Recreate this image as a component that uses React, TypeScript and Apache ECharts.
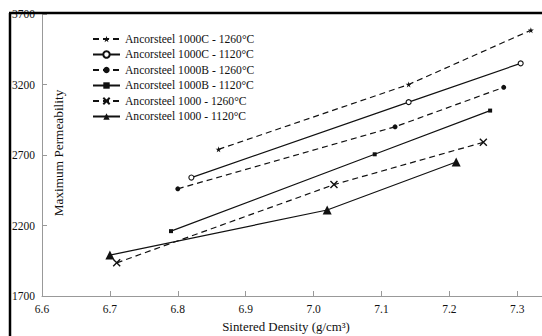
import React, { useEffect, useRef } from "react";
import * as echarts from "echarts";

const seriesNames = [
  "Ancorsteel 1000C - 1260°C",
  "Ancorsteel 1000C - 1120°C",
  "Ancorsteel 1000B - 1260°C",
  "Ancorsteel 1000B - 1120°C",
  "Ancorsteel 1000 - 1260°C",
  "Ancorsteel 1000 - 1120°C",
];

const s1000C1260: [number, number][] = [[6.86, 2740], [7.14, 3200], [7.32, 3585]];
const s1000C1120: [number, number][] = [[6.82, 2540], [7.14, 3075], [7.305, 3350]];
const s1000B1260: [number, number][] = [[6.80, 2460], [7.12, 2900], [7.28, 3180]];
const s1000B1120: [number, number][] = [[6.79, 2160], [7.09, 2705], [7.26, 3015]];
const s10001260: [number, number][] = [[6.71, 1935], [7.03, 2490], [7.25, 2790]];
const s10001120: [number, number][] = [[6.70, 1990], [7.02, 2310], [7.21, 2650]];

const xTicks = [6.6, 6.7, 6.8, 6.9, 7.0, 7.1, 7.2, 7.3];
const yTicks = [1700, 2200, 2700, 3200, 3700];

const FONT = "Liberation Serif";
const STAR = "path://M50 0 L61 35 L98 35 L68 57 L79 91 L50 70 L21 91 L32 57 L2 35 L39 35 Z";
const CROSS = "path://M0 0 L10 10 M10 0 L0 10";

export default function App() {
  const ref = useRef<HTMLDivElement>(null);
  useEffect(() => {
    if (!ref.current) return;
    const chart = echarts.init(ref.current, undefined, { renderer: "svg" });
    const mk = (
      name: string,
      data: [number, number][],
      dashed: boolean,
      symbol: string,
      symbolSize: number,
      itemStyle: any
    ) => ({
      name,
      type: "line",
      data,
      symbol,
      symbolSize,
      showSymbol: true,
      lineStyle: { color: "#111", width: 1.2, type: dashed ? [6, 4] : "solid" },
      itemStyle,
      emphasis: { disabled: true },
    });
    const solid = { color: "#111", borderColor: "#111", borderWidth: 0 };
    chart.setOption({
      animation: false,
      textStyle: { fontFamily: FONT },
      grid: { left: 42, top: 14, width: 500, height: 282 },
      legend: {
        orient: "vertical",
        left: 87,
        top: 28,
        itemWidth: 27,
        itemHeight: 8,
        itemGap: 3.5,
        data: seriesNames,
        textStyle: { fontFamily: FONT, fontSize: 11.6, color: "#111" },
      },
      xAxis: {
        type: "value",
        min: 6.6,
        max: 7.3364,
        interval: 0.1,
        splitLine: { show: false },
        axisLine: { lineStyle: { color: "#999", width: 1 } },
        axisTick: { inside: true, length: 5, lineStyle: { color: "#999" }, customValues: xTicks },
        axisLabel: {
          customValues: xTicks,
          formatter: (v: number) => v.toFixed(1),
          fontFamily: FONT,
          fontSize: 11.5,
          color: "#111",
          margin: 7,
        },
      },
      yAxis: {
        type: "value",
        min: 1700,
        max: 3700,
        interval: 500,
        splitLine: { show: false },
        axisLine: { show: true, lineStyle: { color: "#999", width: 1 } },
        axisTick: { show: true, inside: true, length: 5, lineStyle: { color: "#999" }, customValues: yTicks },
        axisLabel: {
          customValues: yTicks,
          formatter: (v: number) => String(v),
          fontFamily: FONT,
          fontSize: 11.5,
          color: "#111",
          margin: 7,
        },
      },
      graphic: [
        {
          type: "line",
          shape: { x1: 10, y1: 13, x2: 10, y2: 336 },
          style: { stroke: "#000", lineWidth: 2.5 },
          z: 100,
        },
        {
          type: "line",
          shape: { x1: 9, y1: 13, x2: 542, y2: 13 },
          style: { stroke: "#000", lineWidth: 2.5 },
          z: 100,
        },
        {
          type: "text",
          x: 58,
          y: 153,
          rotation: Math.PI / 2,
          style: {
            text: "Maximum Permeability",
            font: `13.3px ${FONT}`,
            fill: "#111",
            align: "center",
            verticalAlign: "middle",
          },
        },
        {
          type: "text",
          x: 286,
          y: 327,
          style: {
            text: "Sintered Density (g/cm³)",
            font: `12.9px ${FONT}`,
            fill: "#111",
            align: "center",
            verticalAlign: "middle",
          },
        },
      ],
      series: [
        mk(seriesNames[0], s1000C1260, true, STAR, 6, solid),
        mk(seriesNames[1], s1000C1120, false, "circle", 5, { color: "#fff", borderColor: "#111", borderWidth: 1.1 }),
        mk(seriesNames[2], s1000B1260, true, "circle", 5, solid),
        mk(seriesNames[3], s1000B1120, false, "rect", 4, solid),
        mk(seriesNames[4], s10001260, true, CROSS, 7, { color: "rgba(0,0,0,0)", borderColor: "#111", borderWidth: 1.4 }),
        mk(seriesNames[5], s10001120, false, "triangle", 9, solid),
      ],
    });
    return () => chart.dispose();
  }, []);
  return (
    <div
      ref={ref}
      style={{ position: "absolute", left: 0, top: 0, width: 542, height: 336, background: "#fff" }}
    />
  );
}
